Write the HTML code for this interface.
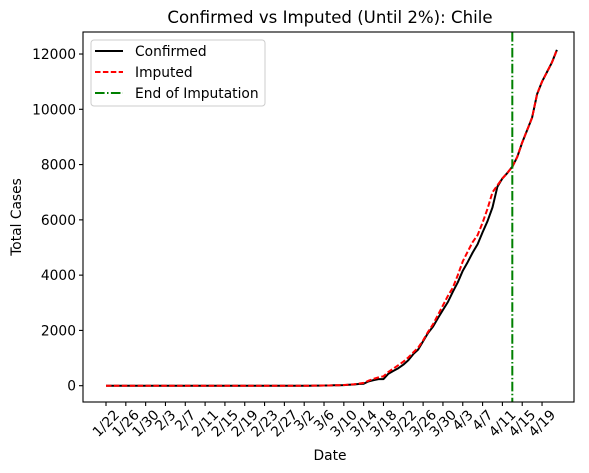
<!DOCTYPE html>
<html><head><meta charset="utf-8"><style>
body{margin:0;background:#fff}
svg{display:block;font-family:"DejaVu Sans","Liberation Sans",sans-serif}
</style></head><body>
<svg id="chart" width="589" height="473" viewBox="0 0 589 473">
<rect width="589" height="473" fill="#fff"/>
<text x="330" y="23" font-size="16.6" text-anchor="middle">Confirmed vs Imputed (Until 2%): Chile</text>
<text x="330" y="460" font-size="13.8" text-anchor="middle">Date</text>
<text x="21" y="217" font-size="13.8" text-anchor="middle" transform="rotate(-90 21 217)">Total Cases</text>
<g id="plot"></g>
<rect x="83" y="32" width="491" height="370" fill="none" stroke="#000" stroke-width="1.1"/>
<g>
<rect x="91" y="40" width="174" height="66" rx="3" fill="#fff" fill-opacity="0.8" stroke="#ccc"/>
<g><line x1="95" y1="51" x2="123" y2="51" stroke="#000" stroke-width="2"/><text x="135" y="56" font-size="13.8">Confirmed</text></g>
<g><line x1="95" y1="72" x2="123" y2="72" stroke="red" stroke-width="2" stroke-dasharray="5.5,2.4"/><text x="135" y="77" font-size="13.8">Imputed</text></g>
<g><line x1="95" y1="93" x2="123" y2="93" stroke="green" stroke-width="2" stroke-dasharray="9.6,2.4,1.5,2.4"/><text x="135" y="98" font-size="13.8">End of Imputation</text></g>
</g>
</svg>
<script>
const yTicks=[0,2000,4000,6000,8000,10000,12000];
const xTickLabels=["1/22","1/26","1/30","2/3","2/7","2/11","2/15","2/19","2/23","2/27","3/2","3/6","3/10","3/14","3/18","3/22","3/26","3/30","4/3","4/7","4/11","4/15","4/19"];
const confirmedTail=[1,1,4,4,7,7,13,17,23,33,43,61,74,155,201,238,238,434,537,632,760,920,1140,1310,1610,1910,2140,2450,2740,3030,3400,3740,4160,4470,4820,5120,5550,5950,6450,7200,7500,7700,7920,8280,8800,9250,9700,10550,11000,11350,11700,12150];
const imputedTail=[1,1,4,4,7,7,13,17,25,37,50,75,100,180,250,300,340,500,620,740,870,1020,1200,1380,1640,1950,2220,2560,2900,3250,3550,4000,4500,4850,5200,5450,5900,6400,7000,7250,7500,7700,7920,8280,8800,9250,9700,10550,11000,11350,11700,12150];
const leadingZeros=40;
const endImputationDay=82;
const confirmed=new Array(leadingZeros).fill(0).concat(confirmedTail);
const imputed=new Array(leadingZeros).fill(0).concat(imputedTail);

const X=d=>106+d*4.955;
const Y=v=>385.7-v*0.02764;
const NS="http://www.w3.org/2000/svg";
const g=document.getElementById('plot');
function mk(t,a){const e=document.createElementNS(NS,t);for(const k in a)e.setAttribute(k,a[k]);g.appendChild(e);return e;}
yTicks.forEach(v=>{
  const l=mk('line',{x1:79,x2:83,y1:Y(v),y2:Y(v),stroke:'#000','stroke-width':1.1});
  
  
  const t=mk('text',{x:76,y:Y(v)+5,'font-size':13.8,'text-anchor':'end'});
  t.textContent=v;
  
  
});
xTickLabels.forEach((s,i)=>{
  const x=X(i*4);
  const l=mk('line',{x1:x,x2:x,y1:402,y2:406,stroke:'#000','stroke-width':1.1});
  
  
  const t=mk('text',{x:x,y:0,'font-size':13.8,'text-anchor':'middle'});
  t.textContent=s;
  
  
  const L=t.getComputedTextLength();
  const h=10;
  const cy=409+(L+h)*0.7071/2;
  t.setAttribute('y',cy+4.5);
  t.setAttribute('transform',`rotate(-45 ${x} ${cy})`);
});
const pts=a=>a.map((v,i)=>X(i).toFixed(1)+','+Y(v).toFixed(1)).join(' ');
const c=mk('polyline',{points:pts(confirmed),fill:'none',stroke:'#000','stroke-width':2,'stroke-linejoin':'round'});


const r=mk('polyline',{points:pts(imputed),fill:'none',stroke:'red','stroke-width':2,'stroke-dasharray':'5.5,2.4'});


const v=mk('line',{x1:X(endImputationDay),x2:X(endImputationDay),y1:32,y2:402,stroke:'green','stroke-width':2,'stroke-dasharray':'9.6,2.4,1.5,2.4'});


</script>
</body></html>
